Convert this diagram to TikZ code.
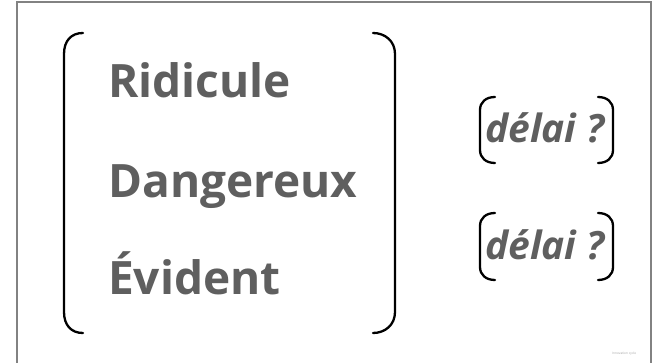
\documentclass[tikz,border=0pt]{standalone}
\usepackage{fontspec}
\setmainfont{Open Sans}
\definecolor{txtgray}{RGB}{95,95,95}
\definecolor{framegray}{RGB}{130,130,130}
\begin{document}
\begin{tikzpicture}[x=1pt,y=-1pt,
  bigword/.style={anchor=base west,inner sep=0pt,text=txtgray,font=\fontsize{46}{50}\selectfont\bfseries},
  delay/.style={anchor=base west,inner sep=0pt,text=txtgray,font=\fontsize{39}{44}\selectfont\bfseries\itshape},
  brk/.style={line width=2.3pt,black,line cap=round}]
\useasboundingbox (0,0) rectangle (656,363);
\fill[white] (0,0) rectangle (656,363);
\draw[framegray,line width=2pt] (16.5,380) -- (16.5,2.5) -- (650.5,2.5) -- (650.5,380);
% big words
\node[bigword] (r) at (108,98) {Ridicule};
\node[bigword] (d) at (108,198) {Dangereux};
\node[bigword] (e) at (108,295) {Évident};
% big brackets
\draw[brk] (83,33) .. controls (71,33) and (64,41) .. (64,54) -- (64,312) .. controls (64,325) and (71,333) .. (83,333);
\draw[brk] (373,33) .. controls (385,33) and (395,41) .. (395,54) -- (395,312) .. controls (395,325) and (385,333) .. (373,333);
% delays
\node[delay] (d1) at (485,143) {délai ?};
\node[delay] (d2) at (485,260) {délai ?};
\draw[brk] (495,97) .. controls (486,97) and (480,102) .. (480,110) -- (480,150) .. controls (480,158) and (486,163) .. (495,163);
\draw[brk] (598,97) .. controls (607,97) and (613,102) .. (613,110) -- (613,150) .. controls (613,158) and (607,163) .. (598,163);
\draw[brk] (495,213) .. controls (486,213) and (480,218) .. (480,226) -- (480,267) .. controls (480,275) and (486,280) .. (495,280);
\draw[brk] (598,213) .. controls (607,213) and (613,218) .. (613,226) -- (613,267) .. controls (613,275) and (607,280) .. (598,280);
\node[anchor=base west,inner sep=0pt,text=gray!70,font=\fontsize{3.2}{4}\selectfont] (ic) at (612,355) {Innovation cycle};
\end{tikzpicture}
\end{document}
